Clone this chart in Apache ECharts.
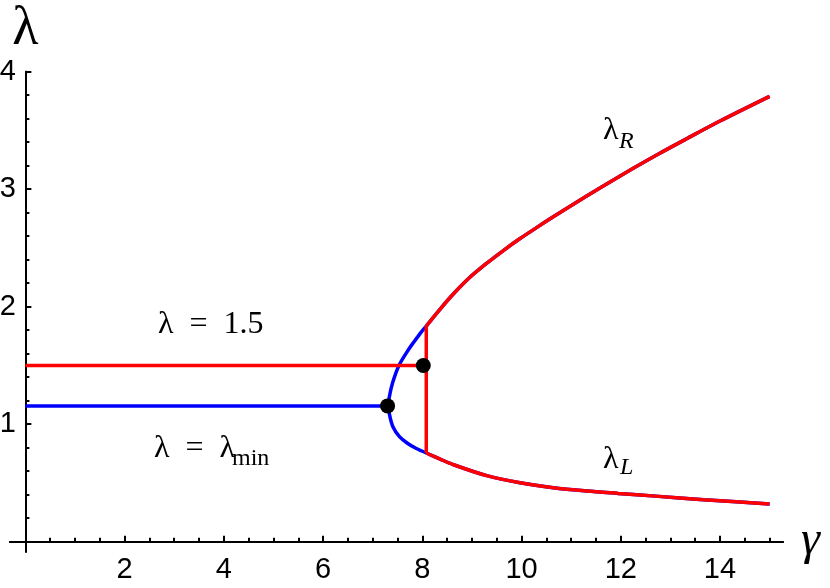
<!DOCTYPE html>
<html>
<head>
<meta charset="utf-8">
<script src="https://cdn.jsdelivr.net/npm/echarts@6/dist/echarts.min.js"></script>
<style>
  html, body { margin: 0; padding: 0; background: #fff; }
  #chart { width: 830px; height: 588px; }
</style>
</head>
<body>
<div id="chart"></div>
<script>
// branches of the curve
const gammaUpper = [8.08, 8.36, 8.63, 8.96, 9.30, 9.64, 9.97, 10.31, 10.64, 10.98, 11.58, 12.26, 12.76, 13.33, 14.00, 15.0]
const lambdaUpper = [1.835, 1.98, 2.11, 2.25, 2.37, 2.48, 2.58, 2.675, 2.765, 2.855, 3.01, 3.18, 3.30, 3.43, 3.58, 3.79]
const gammaLower = [8.08, 8.35, 8.63, 9.30, 9.97, 10.64, 11.32, 11.95, 12.70, 13.67, 15.0]
const lambdaLower = [0.755, 0.705, 0.655, 0.562, 0.501, 0.459, 0.431, 0.411, 0.388, 0.358, 0.32]
// the nose where the two branches meet (upper end to lower end)
const gammaNose = [8.08, 7.97, 7.83, 7.73, 7.53, 7.40, 7.33, 7.32, 7.34, 7.41, 7.54, 7.70, 7.88, 8.08]
const lambdaNose = [1.835, 1.78, 1.70, 1.64, 1.50, 1.35, 1.22, 1.16, 1.08, 0.977, 0.895, 0.838, 0.793, 0.755]

const lambdaMin = 1.156
const lambdaFixed = 1.5
const gammaMinEnd = 7.30
const gammaFixedEnd = 8.02
const gammaJump = 8.08

const dotGamma = [7.30, 8.02]
const dotLambda = [1.156, 1.5]

const xMajor = [2, 4, 6, 8, 10, 12, 14]
const xMinor = [0.5, 1, 1.5, 2.5, 3, 3.5, 4.5, 5, 5.5, 6.5, 7, 7.5, 8.5, 9, 9.5, 10.5, 11, 11.5, 12.5, 13, 13.5, 14.5, 15]
const yMajor = [1, 2, 3, 4]
const yMinor = [0.2, 0.4, 0.6, 0.8, 1.2, 1.4, 1.6, 1.8, 2.2, 2.4, 2.6, 2.8, 3.2, 3.4, 3.6, 3.8]

const zip = (xs, ys) => xs.map((x, i) => [x, ys[i]])

const BLUE = '#0000ff'
const RED = '#ff0000'
const serif = '"Liberation Serif", "DejaVu Serif", serif'
const sans = '"Liberation Sans", Arial, sans-serif'

const chart = echarts.init(document.getElementById('chart'))

function xAxisOf(ticks, len, labels) {
  return {
    type: 'value',
    min: -0.31,
    max: 15.27,
    position: 'bottom',
    name: labels ? 'γ' : '',
    nameLocation: 'end',
    nameGap: 18,
    nameTextStyle: { fontFamily: serif, fontStyle: 'italic', fontSize: 48, color: '#000', padding: [16, 0, 0, 0] },
    axisLine: { onZero: true, lineStyle: { color: '#000', width: 2 } },
    axisTick: { show: true, inside: true, length: len, customValues: ticks, lineStyle: { color: '#000', width: 2 } },
    axisLabel: labels
      ? { show: true, customValues: labels, fontSize: 29, fontFamily: sans, color: '#000', margin: 4 }
      : { show: false },
    splitLine: { show: false }
  }
}

function yAxisOf(ticks, len, labels) {
  return {
    type: 'value',
    min: -0.085,
    max: 4,
    position: 'left',
    name: labels ? 'λ' : '',
    nameLocation: 'end',
    nameGap: 14,
    nameTextStyle: { fontFamily: serif, fontSize: 54, color: '#000' },
    axisLine: { onZero: true, lineStyle: { color: '#000', width: 2 } },
    axisTick: { show: true, inside: true, length: len, customValues: ticks, lineStyle: { color: '#000', width: 2 } },
    axisLabel: labels
      ? { show: true, customValues: labels, fontSize: 29, fontFamily: sans, color: '#000', margin: -6 }
      : { show: false },
    splitLine: { show: false }
  }
}

function line(data, color, smooth) {
  return {
    type: 'line',
    data: data,
    symbol: 'none',
    smooth: smooth ? 0.3 : false,
    lineStyle: { color: color, width: 3.5 },
    silent: true
  }
}

chart.setOption({
  animation: false,
  backgroundColor: '#fff',
  grid: { left: 10, right: 47, top: 71.7, bottom: 36.3, outerBoundsMode: 'none' },
  xAxis: [xAxisOf(xMajor, 6, xMajor), xAxisOf(xMinor, 4, null)],
  yAxis: [yAxisOf(yMajor, 6, yMajor), yAxisOf(yMinor, 4, null)],
  series: [
    line([[0, lambdaMin], [gammaMinEnd, lambdaMin]], BLUE, false),
    line(zip(gammaNose, lambdaNose), BLUE, true),
    line(zip(gammaUpper, lambdaUpper), BLUE, true),
    line(zip(gammaLower, lambdaLower), BLUE, true),
    line([[0, lambdaFixed], [gammaFixedEnd, lambdaFixed]], RED, false),
    line([[gammaJump, lambdaLower[0]], [gammaJump, lambdaUpper[0]]], RED, false),
    line(zip(gammaUpper, lambdaUpper), RED, true),
    line(zip(gammaLower, lambdaLower), RED, true),
    {
      type: 'scatter',
      data: zip(dotGamma, dotLambda),
      symbol: 'circle',
      symbolSize: 15,
      itemStyle: { color: '#000', opacity: 1 },
      silent: true,
      z: 5
    }
  ],
  graphic: [
    { type: 'text', x: 603, y: 131, style: { text: 'λ', font: '32px ' + serif, fill: '#000', verticalAlign: 'middle' } },
    { type: 'text', x: 619, y: 142, style: { text: 'R', font: 'italic 24px ' + serif, fill: '#000', verticalAlign: 'middle' } },
    { type: 'text', x: 603, y: 460, style: { text: 'λ', font: '32px ' + serif, fill: '#000', verticalAlign: 'middle' } },
    { type: 'text', x: 620, y: 468, style: { text: 'L', font: 'italic 24px ' + serif, fill: '#000', verticalAlign: 'middle' } },
    { type: 'text', x: 158, y: 325, style: { text: 'λ\u2002=\u20021.5', font: '32px ' + serif, fill: '#000', verticalAlign: 'middle' } },
    { type: 'text', x: 154, y: 449, style: { text: 'λ\u2002=\u2002λ', font: '32px ' + serif, fill: '#000', verticalAlign: 'middle' } },
    { type: 'text', x: 232, y: 459, style: { text: 'min', font: '24px ' + serif, fill: '#000', verticalAlign: 'middle' } }
  ]
})
</script>
</body>
</html>
